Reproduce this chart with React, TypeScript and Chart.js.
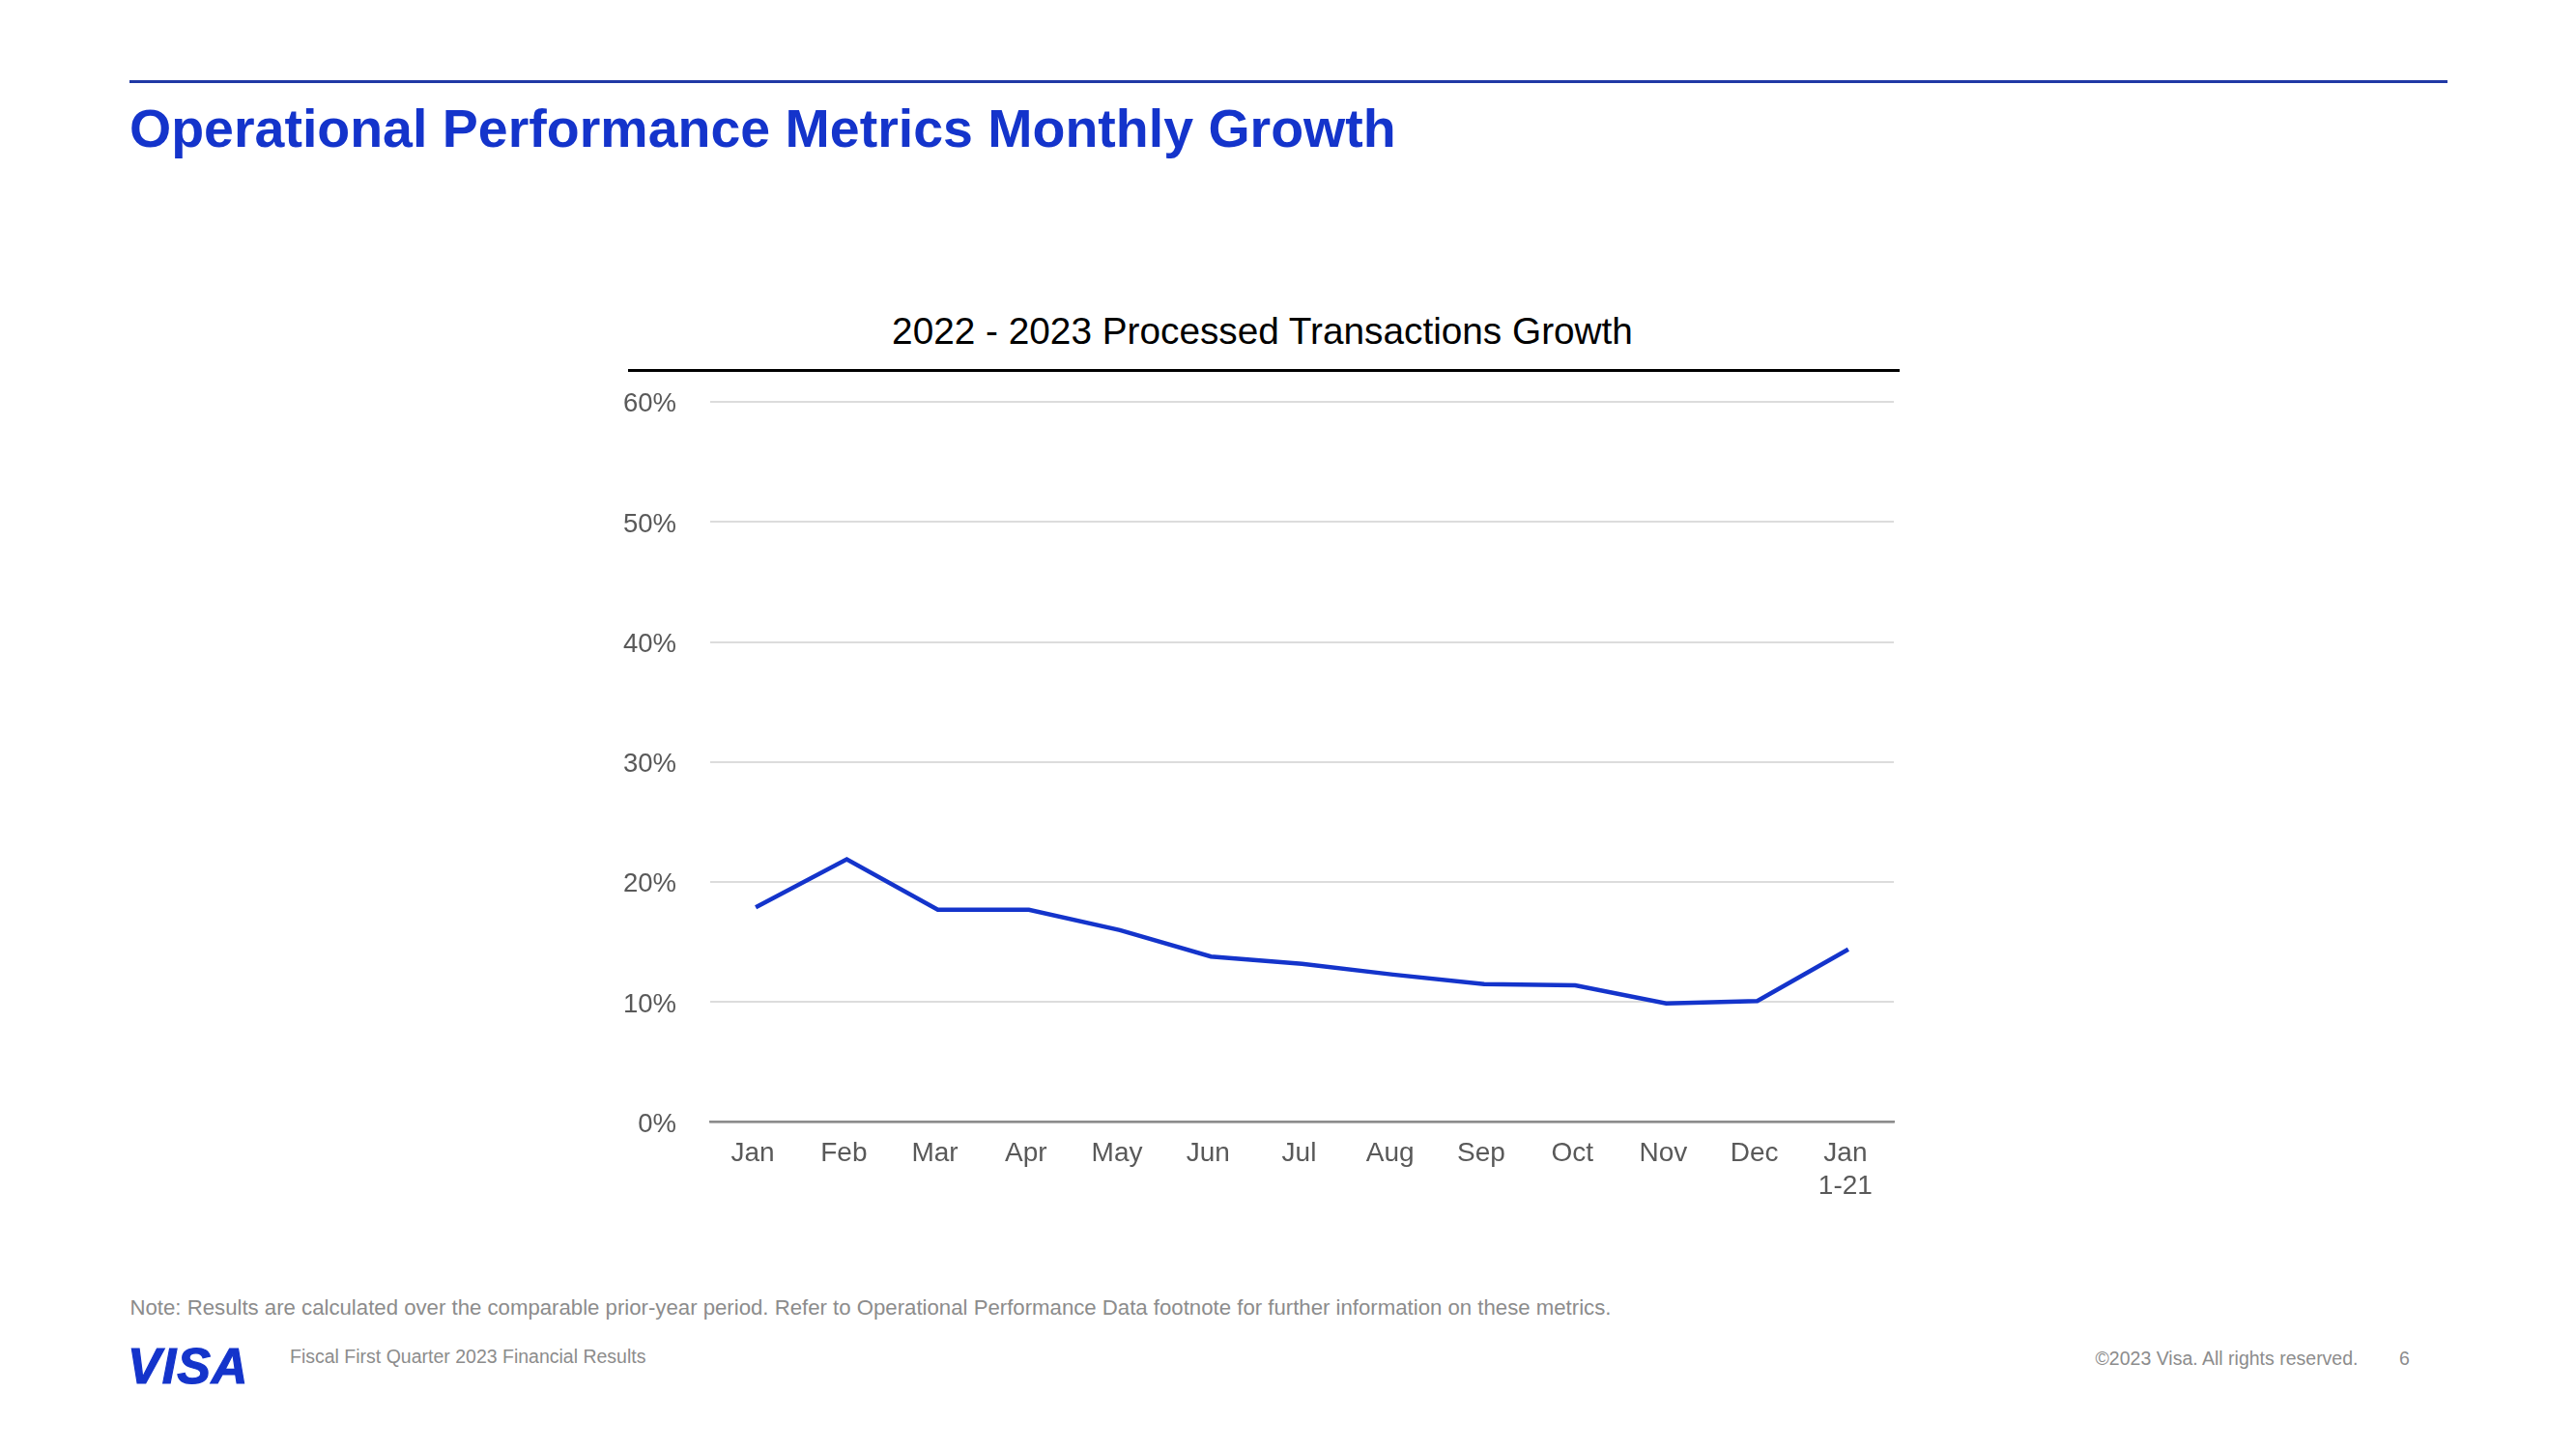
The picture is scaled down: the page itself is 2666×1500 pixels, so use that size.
import React, { useEffect, useRef } from "react";
import { Chart, registerables } from "chart.js";

Chart.register(...registerables);

const FONT = "'Liberation Sans', Arial, Helvetica, sans-serif";

const PAGE_TITLE = "Operational Performance Metrics Monthly Growth";
const CHART_TITLE = "2022 - 2023 Processed Transactions Growth";
const NOTE_TEXT =
  "Note: Results are calculated over the comparable prior-year period. Refer to Operational Performance Data footnote for further information on these metrics.";
const FOOTER_LEFT = "Fiscal First Quarter 2023 Financial Results";
const FOOTER_RIGHT = "©2023 Visa. All rights reserved.";
const PAGE_NUMBER = "6";

const CATEGORIES: (string | string[])[] = [
  "Jan",
  "Feb",
  "Mar",
  "Apr",
  "May",
  "Jun",
  "Jul",
  "Aug",
  "Sep",
  "Oct",
  "Nov",
  "Dec",
  ["Jan", "1-21"],
];

const GROWTH: number[] = [17.9, 21.9, 17.7, 17.7, 16.0, 13.8, 13.2, 12.3, 11.5, 11.4, 9.9, 10.1, 14.4];

const Y_MIN = 0;
const Y_MAX = 60;
const Y_STEP = 10;

const VISA_BLUE = "#1434CB";

export default function App() {
  const canvasRef = useRef<HTMLCanvasElement | null>(null);

  useEffect(() => {
    const canvas = canvasRef.current;
    if (!canvas) return;
    const chart = new Chart(canvas, {
      type: "line",
      data: {
        labels: CATEGORIES,
        datasets: [
          {
            data: GROWTH,
            borderColor: VISA_BLUE,
            backgroundColor: VISA_BLUE,
            borderWidth: 4.5,
            pointRadius: 0,
            pointHoverRadius: 0,
            tension: 0,
            fill: false,
          },
        ],
      },
      options: {
        responsive: false,
        animation: false,
        devicePixelRatio: 1,
        layout: { padding: { left: 0, right: 30, top: 116.2, bottom: 0 } },
        plugins: {
          legend: { display: false },
          tooltip: { enabled: false },
          title: { display: false },
        },
        scales: {
          x: {
            type: "category",
            offset: true,
            grid: { display: false, drawTicks: false },
            border: { display: true, color: "#8c8c8c", width: 2.5 },
            ticks: {
              color: "#595959",
              font: { family: FONT, size: 28 },
              padding: 15.8,
              labelOffset: -3,
              maxRotation: 0,
              autoSkip: false,
            },
            afterFit: (s: any) => {
              s.height = 98.3;
            },
          },
          y: {
            min: Y_MIN,
            max: Y_MAX,
            grid: { color: "#dcdcdc", lineWidth: 2, drawTicks: false },
            border: { display: false },
            ticks: {
              stepSize: Y_STEP,
              padding: 35,
              labelOffset: 2.5,
              color: "#595959",
              font: { family: FONT, size: 27.5 },
              callback: (v: any) => `${v}%`,
            },
            afterFit: (s: any) => {
              s.width = 115;
            },
          },
        },
      },
    });
    return () => chart.destroy();
  }, []);

  const abs = (style: React.CSSProperties): React.CSSProperties => ({
    position: "absolute",
    whiteSpace: "nowrap",
    fontFamily: FONT,
    margin: 0,
    ...style,
  });

  return (
    <div
      style={{
        position: "absolute",
        left: 0,
        top: 0,
        width: 2666,
        height: 1500,
        background: "#ffffff",
        overflow: "hidden",
      }}
    >
      <div style={abs({ left: 134, top: 83, width: 2399, height: 2.5, background: "#2039a5" })} />
      <div
        style={abs({
          left: 134,
          top: 105.5,
          fontSize: 55.5,
          lineHeight: "55.5px",
          fontWeight: "bold",
          color: VISA_BLUE,
        })}
      >
        {PAGE_TITLE}
      </div>

      <div
        style={abs({
          left: 0,
          width: 2613,
          top: 324.2,
          fontSize: 38.75,
          lineHeight: "38.75px",
          color: "#000000",
          textAlign: "center",
        })}
      >
        {CHART_TITLE}
      </div>
      <div style={abs({ left: 650, top: 382.2, width: 1316, height: 2.5, background: "#000000" })} />

      <canvas
        ref={canvasRef}
        width={1370}
        height={960}
        style={{ position: "absolute", left: 620, top: 300, width: 1370, height: 960, display: "block" }}
      />

      <div style={abs({ left: 134.5, top: 1342.7, fontSize: 22.2, lineHeight: "22.2px", color: "#8c8c8c" })}>
        {NOTE_TEXT}
      </div>

      <div
        style={abs({
          left: 132,
          top: 1388,
          fontSize: 52,
          lineHeight: "52px",
          fontWeight: "bold",
          fontStyle: "italic",
          color: VISA_BLUE,
          letterSpacing: 1,
          WebkitTextStroke: `1.2px ${VISA_BLUE}`,
        })}
      >
        VISA
      </div>
      <div style={abs({ left: 300, top: 1395, fontSize: 19.5, lineHeight: "19.5px", color: "#8c8c8c" })}>
        {FOOTER_LEFT}
      </div>
      <div style={abs({ left: 2168.5, top: 1396.8, fontSize: 19.5, lineHeight: "19.5px", color: "#8c8c8c" })}>
        {FOOTER_RIGHT}
      </div>
      <div style={abs({ left: 2483, top: 1396.8, fontSize: 19.5, lineHeight: "19.5px", color: "#8c8c8c" })}>
        {PAGE_NUMBER}
      </div>
    </div>
  );
}
